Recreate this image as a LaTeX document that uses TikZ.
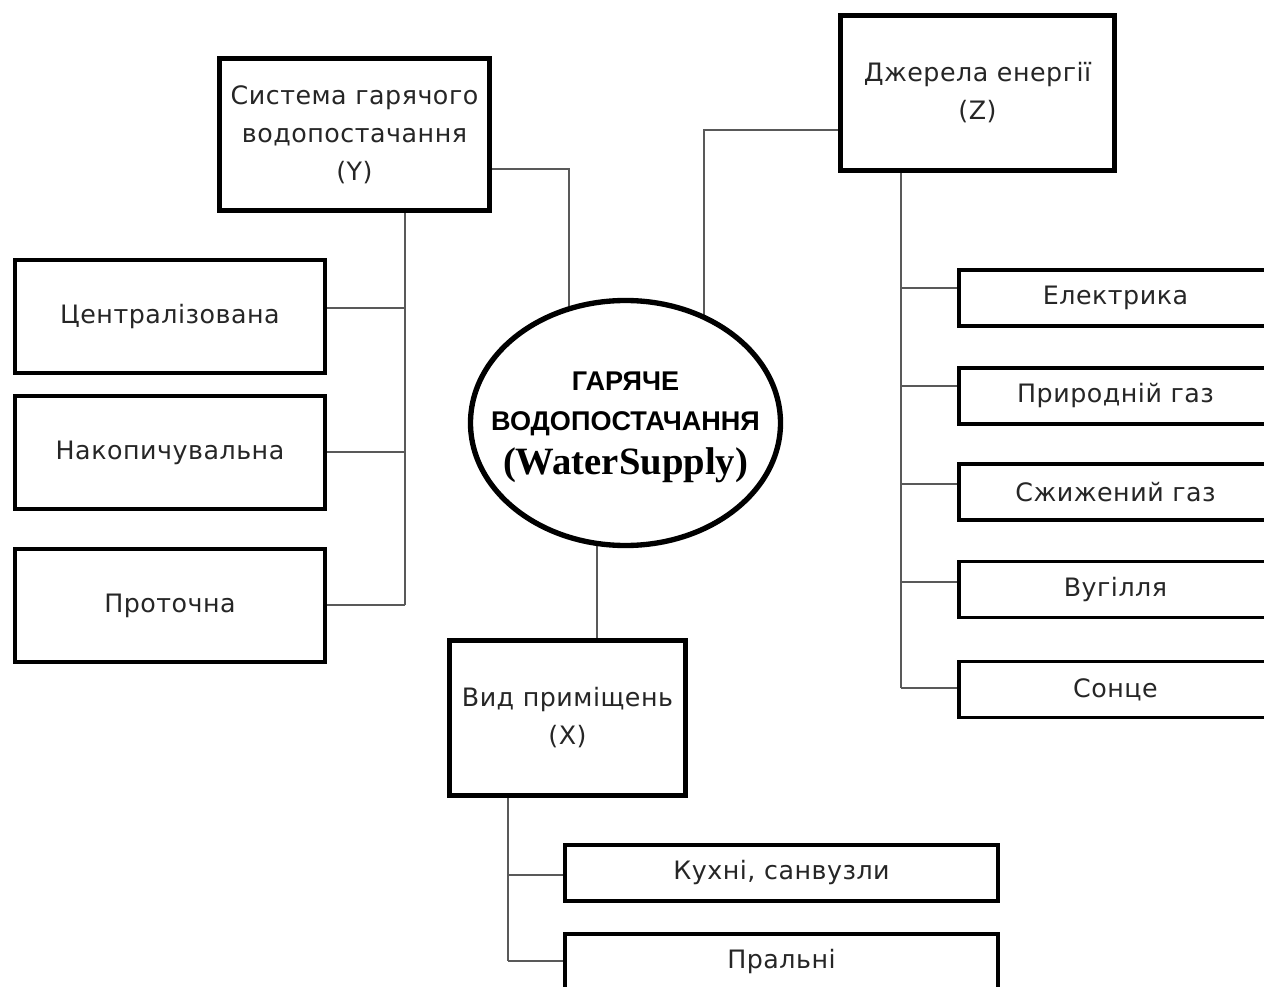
\documentclass[tikz,border=0pt]{standalone}
\usepackage{fontspec}
\setmainfont{DejaVu Sans}[LetterSpace=2]
\newfontfamily\gfont{Liberation Sans}
\newfontfamily\wfont{Liberation Serif}
\usetikzlibrary{shapes.geometric}
\pgfdeclarelayer{bg}
\pgfdeclarelayer{lines}
\pgfsetlayers{bg,lines,main}
\def\pxu{0.75pt}
\begin{document}
\begin{tikzpicture}[x=0.75pt,y=-0.75pt,
  txt/.style={text=black!85, font=\fontsize{19pt}{28.5pt}\selectfont},
  bigbox/.style={txt, draw=black, line width=3.75pt, fill=white, align=center,
    inner sep=0pt, outer sep=0pt},
  smallbox/.style={txt, draw=black, line width=2.6pt, fill=white,
    inner sep=0pt, outer sep=0pt},
  leftbox/.style={smallbox, minimum width=310*\pxu, minimum height=113*\pxu},
  rightbox/.style={smallbox, minimum width=313*\pxu, minimum height=56*\pxu},
  roombox/.style={smallbox, minimum width=433*\pxu, minimum height=56*\pxu},
  conn/.style={draw=black!65, line width=1.5pt}
]
\useasboundingbox (0,0) rectangle (1264,987);
\begin{pgfonlayer}{bg}
  \fill[white] (0,0) rectangle (1264,987);
\end{pgfonlayer}
\clip (0,0) rectangle (1264,987);

% main nodes
\node[bigbox, minimum width=270*\pxu, minimum height=152*\pxu] (ybox) at (354.5,135)
  {Система гарячого\\водопостачання\\(Y)};
\node[bigbox, minimum width=274*\pxu, minimum height=155*\pxu] (zbox) at (977.5,93)
  {Джерела енергії\\(Z)};
\node[bigbox, minimum width=236*\pxu, minimum height=155*\pxu] (xbox) at (567.5,718)
  {Вид приміщень\\(X)};
\node[ellipse, draw=black, line width=4pt, fill=white, inner sep=0pt, outer sep=0pt,
  minimum width=310*\pxu, minimum height=245*\pxu] (el) at (625.5,423) {};
\node[align=center, inner sep=0pt, font=\fontsize{20.3pt}{30pt}\selectfont, text depth=0pt]
  (elt) at (el.center)
  {{\gfont\bfseries ГАРЯЧЕ}\\{\gfont\bfseries ВОДОПОСТАЧАННЯ}\\[3pt]{\wfont\bfseries\fontsize{29pt}{30pt}\selectfont (WaterSupply)}};

% left column
\node[leftbox] (c1) at (170,316.5) {Централізована};
\node[leftbox] (c2) at (170,452.5) {Накопичувальна};
\node[leftbox] (c3) at (170,605.5) {Проточна};

% right column
\node[rightbox] (r1) at (1115.5,298) {Електрика};
\node[rightbox] (r2) at (1115.5,396) {Природній газ};
\node[rightbox] (r3) at (1115.5,492) {Сжижений газ};
\node[rightbox] (r4) at (1115.5,589.5) {Вугілля};
\node[rightbox] (r5) at (1115.5,689.5) {Сонце};

% bottom
\node[roombox] (k1) at (781.5,873) {Кухні, санвузли};
\node[roombox] (k2) at (781.5,962) {Пральні};

% junction coordinates
\coordinate (yjA) at (569,169);
\coordinate (zjA) at (704,130);
\coordinate (xjA) at (597,580);
\coordinate (yb1) at (405,308);
\coordinate (yb2) at (405,452);
\coordinate (yb3) at (405,605);
\coordinate (zb1) at (901,288);
\coordinate (zb2) at (901,386);
\coordinate (zb3) at (901,484);
\coordinate (zb4) at (901,582);
\coordinate (zb5) at (901,688);
\coordinate (xb1) at (508,875);
\coordinate (xb2) at (508,961);

\begin{pgfonlayer}{lines}
  \draw[conn] (ybox.center |- yjA) -- (yjA) -- (yjA |- el.center);
  \draw[conn] (zbox.center |- zjA) -- (zjA) -- (zjA |- el.center);
  \draw[conn] (xjA |- el.center) -- (xjA |- xbox.center);
  % Y branches
  \draw[conn] (yb1 |- ybox.center) -- (yb3);
  \draw[conn] (yb1) -- (yb1 -| c1.center);
  \draw[conn] (yb2) -- (yb2 -| c2.center);
  \draw[conn] (yb3) -- (yb3 -| c3.center);
  % Z branches
  \draw[conn] (zb1 |- zbox.center) -- (zb5);
  \draw[conn] (zb1) -- (zb1 -| r1.center);
  \draw[conn] (zb2) -- (zb2 -| r2.center);
  \draw[conn] (zb3) -- (zb3 -| r3.center);
  \draw[conn] (zb4) -- (zb4 -| r4.center);
  \draw[conn] (zb5) -- (zb5 -| r5.center);
  % X branches
  \draw[conn] (xb1 |- xbox.center) -- (xb2);
  \draw[conn] (xb1) -- (xb1 -| k1.center);
  \draw[conn] (xb2) -- (xb2 -| k2.center);
\end{pgfonlayer}
\end{tikzpicture}
\end{document}
